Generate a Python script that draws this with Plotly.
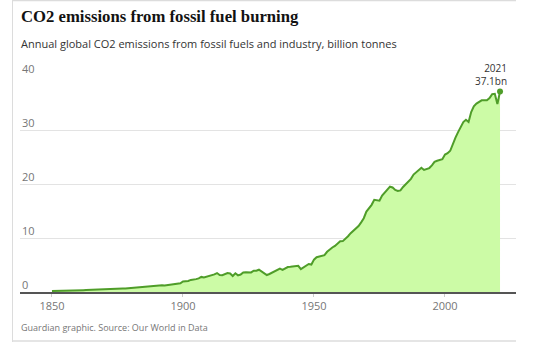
import plotly.graph_objects as go

years = list(range(1850, 2022))
emissions = [
    0.197, 0.198, 0.207, 0.217, 0.255, 0.256, 0.272, 0.277, 0.282, 0.303,
    0.331, 0.345, 0.345, 0.365, 0.394, 0.413, 0.421, 0.451, 0.455, 0.486,
    0.496, 0.540, 0.581, 0.620, 0.593, 0.627, 0.645, 0.656, 0.665, 0.711,
    0.778, 0.803, 0.856, 0.911, 0.922, 0.929, 0.944, 0.991, 1.071, 1.070,
    1.174, 1.220, 1.230, 1.213, 1.262, 1.320, 1.363, 1.424, 1.507, 1.625,
    1.954, 2.001, 2.053, 2.240, 2.250, 2.384, 2.518, 2.795, 2.688, 2.800,
    3.030, 3.087, 3.268, 3.508, 3.139, 3.097, 3.350, 3.496, 3.433, 2.958,
    3.460, 3.082, 3.228, 3.631, 3.640, 3.670, 3.622, 3.936, 3.930, 4.122,
    3.841, 3.438, 3.147, 3.336, 3.614, 3.757, 4.061, 4.318, 4.091, 4.301,
    4.622, 4.670, 4.711, 4.890, 4.860, 4.250, 4.530, 4.950, 5.180, 5.080,
    5.990, 6.440, 6.540, 6.690, 6.830, 7.450, 7.930, 8.240, 8.530, 8.950,
    9.390, 9.420, 9.790, 10.320, 10.890, 11.330, 11.870, 12.220, 12.900, 13.670,
    14.900, 15.450, 16.140, 17.060, 16.910, 16.900, 17.850, 18.400, 18.840, 19.500,
    19.350, 18.900, 18.700, 18.820, 19.450, 20.000, 20.350, 20.950, 21.740, 22.170,
    22.700, 23.000, 22.600, 22.750, 22.950, 23.450, 24.100, 24.300, 24.400, 24.600,
    25.450, 25.700, 26.150, 27.500, 28.600, 29.600, 30.600, 31.470, 31.900, 31.500,
    33.330, 34.400, 34.900, 35.250, 35.500, 35.500, 35.500, 35.900, 36.650, 36.700,
    34.800, 37.120,
]

x_ticks = [1850, 1900, 1950, 2000]
y_ticks = [0, 10, 20, 30, 40]

title = "CO2 emissions from fossil fuel burning"
subtitle = "Annual global CO2 emissions from fossil fuels and industry, billion tonnes"
source = "Guardian graphic. Source: Our World in Data"
last_label = "2021<br>37.1bn"

LINE = "#4f9d29"
FILL = "#ccfba6"
GRID = "#e3e3e3"
TXT = "#767676"

W, H = 544, 342
L, R, T, B = 20, 516, 76, 292


def px(x):
    return (x - L) / (R - L)


def py(y):
    return (B - y) / (B - T)


fig = go.Figure()
fig.add_trace(go.Scatter(
    x=years, y=emissions, mode="lines", fill="tozeroy",
    line=dict(color=LINE, width=2), fillcolor=FILL, hoverinfo="skip",
))
fig.add_trace(go.Scatter(
    x=[years[-1]], y=[emissions[-1]], mode="markers",
    marker=dict(color=LINE, size=6), hoverinfo="skip",
))

annotations = []
for v in y_ticks:
    annotations.append(dict(
        x=0, xref="paper", y=v, yref="y", text=str(v), showarrow=False,
        xanchor="left", yanchor="bottom", yshift=-2,
        font=dict(family="Open Sans", size=11, color=TXT),
    ))
annotations.append(dict(
    x=years[-1], xref="x", y=emissions[-1], yref="y", text=last_label,
    showarrow=False, xanchor="right", yanchor="bottom", align="right",
    xshift=9, yshift=2,
    font=dict(family="Open Sans", size=10, color="#333333"),
))
annotations.append(dict(
    x=px(19), xref="paper", y=py(16), yref="paper", text="<b>" + title + "</b>",
    showarrow=False, xanchor="left", yanchor="middle",
    font=dict(family="Liberation Serif", size=16.7, color="#121212"),
))
annotations.append(dict(
    x=px(19), xref="paper", y=py(43), yref="paper", text=subtitle,
    showarrow=False, xanchor="left", yanchor="middle",
    font=dict(family="Open Sans", size=11, color="#333333"),
))
annotations.append(dict(
    x=px(19), xref="paper", y=py(327), yref="paper", text=source,
    showarrow=False, xanchor="left", yanchor="middle",
    font=dict(family="Open Sans", size=9, color=TXT),
))

shapes = [
    dict(type="line", xref="paper", yref="paper", x0=px(12), x1=px(516),
         y0=py(0.5), y1=py(0.5), line=dict(color="#dcdcdc", width=1.5)),
    dict(type="line", xref="paper", yref="paper", x0=px(12), x1=px(516),
         y0=py(341), y1=py(341), line=dict(color="#dcdcdc", width=1.5)),
    dict(type="line", xref="paper", yref="paper", x0=px(12.5), x1=px(12.5),
         y0=py(0), y1=py(342), line=dict(color="#dcdcdc", width=1)),
    dict(type="rect", xref="paper", yref="y", x0=px(472), x1=1.0,
         y0=39.5, y1=40.5, fillcolor="white", line=dict(width=0), layer="above"),
]

fig.update_layout(
    width=W, height=H,
    margin=dict(l=L, r=W - R, t=T, b=H - B),
    paper_bgcolor="white", plot_bgcolor="white",
    showlegend=False,
    annotations=annotations,
    shapes=shapes,
    xaxis=dict(
        range=[1837.8, 2027.1], tickvals=x_ticks, ticktext=[str(t) for t in x_ticks],
        showgrid=False, zeroline=False, showline=True, linecolor="#555555", linewidth=1.5,
        ticks="outside", ticklen=3, tickcolor="#cccccc",
        tickfont=dict(family="Open Sans", size=11, color=TXT),
    ),
    yaxis=dict(
        range=[0, 40], tickvals=y_ticks, showticklabels=False,
        showgrid=True, gridcolor=GRID, gridwidth=1, zeroline=False,
    ),
)

fig.write_html("out.html")
